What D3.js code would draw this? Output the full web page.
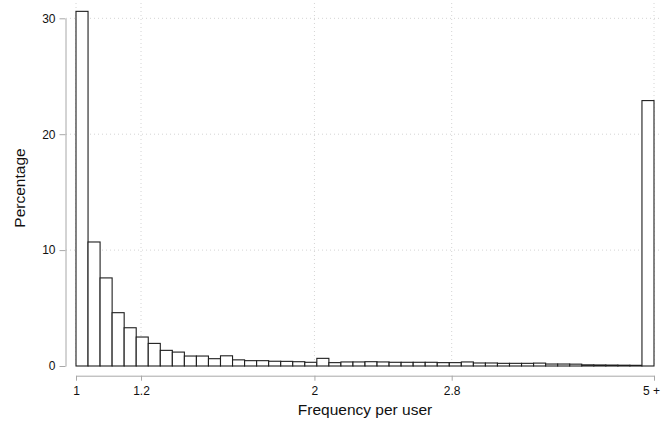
<!DOCTYPE html>
<html>
<head>
<meta charset="utf-8">
<script src="https://cdn.jsdelivr.net/npm/d3@7"></script>
<style>
  html, body { margin: 0; padding: 0; background: #fff; }
  svg { display: block; font-family: Arial, "Liberation Sans", sans-serif; }
</style>
</head>
<body>
<svg id="chart" width="661" height="427"></svg>
<script>
// Share of users (%) in each frequency bin; the final bin collects 5 and above.
const binPercent = [
  30.6, 10.7, 7.6, 4.6, 3.3, 2.5, 1.95, 1.35, 1.2, 0.86,
  0.86, 0.63, 0.88, 0.53, 0.46, 0.46, 0.41, 0.40, 0.37, 0.32,
  0.66, 0.29, 0.35, 0.35, 0.37, 0.35, 0.32, 0.32, 0.32, 0.32,
  0.29, 0.29, 0.35, 0.26, 0.26, 0.23, 0.23, 0.23, 0.25, 0.17,
  0.17, 0.16, 0.10, 0.09, 0.08, 0.07, 0.06, 22.9
];

// x tick labels and where they sit, in bin units
const xTickLabels = ["1", "1.2", "2", "2.8", "5 +"];
const xTickBins = [0, 5.4, 19.8, 31.2, 48];

const yTicks = [0, 10, 20, 30];

const svg = d3.select("#chart");

const x = d3.scaleLinear().domain([0, binPercent.length]).range([76, 654]);
const y = d3.scaleLinear().domain([0, 30]).range([366, 18.3]);

const gridColor = "#d4d4d4";
const axisColor = "#a8a8a8";

// gridlines
const grid = svg.append("g");
grid.selectAll("line.h").data(yTicks.filter(d => d > 0)).join("line")
  .attr("x1", 66).attr("x2", 661)
  .attr("y1", d => y(d)).attr("y2", d => y(d))
  .attr("stroke", gridColor).attr("stroke-width", 1)
  .attr("stroke-dasharray", "1,3");
grid.selectAll("line.v").data(xTickBins).join("line")
  .attr("x1", d => x(d)).attr("x2", d => x(d))
  .attr("y1", 3).attr("y2", 366)
  .attr("stroke", gridColor).attr("stroke-width", 1)
  .attr("stroke-dasharray", "1,3");

// bars
svg.append("g").selectAll("rect").data(binPercent).join("rect")
  .attr("x", (d, i) => x(i))
  .attr("width", (d, i) => x(i + 1) - x(i))
  .attr("y", d => y(d))
  .attr("height", d => y(0) - y(d))
  .attr("fill", "#fff")
  .attr("stroke", "#1e1e1e")
  .attr("stroke-width", 1.1);

// y axis
const yAxis = svg.append("g")
  .attr("transform", "translate(65.5,0)")
  .call(d3.axisLeft(y).tickValues(yTicks).tickSize(6).tickSizeOuter(0).tickPadding(4));
yAxis.select(".domain").attr("stroke", axisColor);
yAxis.selectAll(".tick line").attr("stroke", axisColor);
yAxis.selectAll(".tick text").attr("fill", "#111").style("font-size", "12px")
  .style("font-family", "Arial, 'Liberation Sans', sans-serif");

// x axis
const xAxis = svg.append("g")
  .attr("transform", "translate(0,375.7)")
  .call(d3.axisBottom(x).tickValues(xTickBins)
    .tickFormat((d, i) => xTickLabels[i]).tickSize(5).tickSizeOuter(0).tickPadding(6));
xAxis.select(".domain").attr("stroke", axisColor);
xAxis.selectAll(".tick line").attr("stroke", axisColor);
xAxis.selectAll(".tick text").attr("fill", "#111").style("font-size", "12px")
  .style("font-family", "Arial, 'Liberation Sans', sans-serif");
// keep the open-ended label inside the right edge
xAxis.selectAll(".tick text").filter((d, i) => i === xTickLabels.length - 1)
  .attr("dx", "-3");

// axis titles
svg.append("text")
  .attr("x", 365).attr("y", 415)
  .attr("text-anchor", "middle")
  .attr("fill", "#111")
  .style("font-size", "15.5px")
  .text("Frequency per user");

svg.append("text")
  .attr("transform", "translate(25,188) rotate(-90)")
  .attr("text-anchor", "middle")
  .attr("fill", "#111")
  .style("font-size", "15.5px")
  .text("Percentage");
</script>
</body>
</html>
